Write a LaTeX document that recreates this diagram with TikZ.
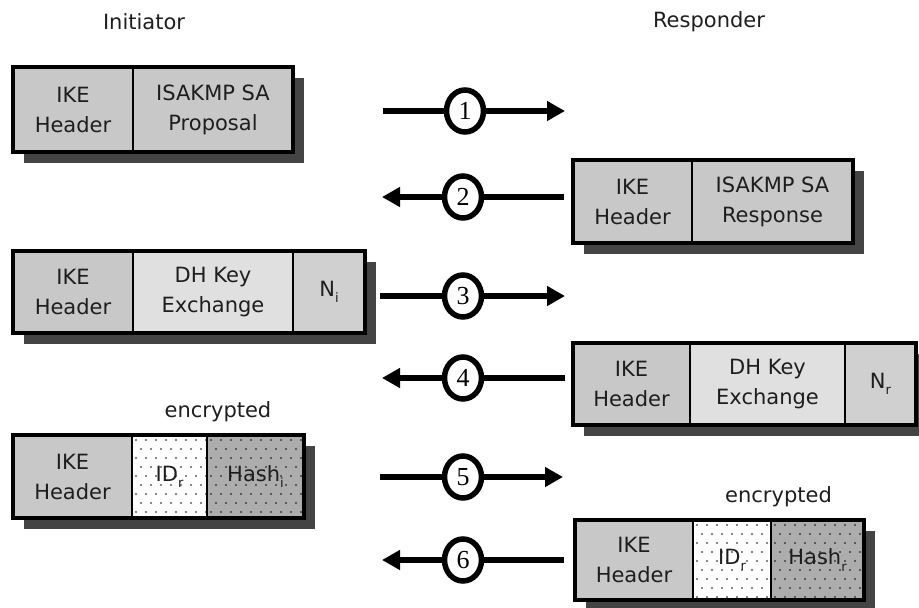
\documentclass[tikz,border=0pt]{standalone}
\usepackage{fontspec}
\setmainfont{DejaVu Sans}
\newfontfamily\digitfont{Liberation Serif}
\usetikzlibrary{arrows.meta,shapes.geometric,backgrounds,calc}

\definecolor{hdrgray}{HTML}{C8C8C8}
\definecolor{lightcell}{HTML}{E0E0E0}
\definecolor{midcell}{HTML}{D0D0D0}
\definecolor{hashgray}{HTML}{ADADAD}
\definecolor{shadowgray}{HTML}{444444}
\definecolor{inkgray}{HTML}{1E1E1E}
\definecolor{dotgray}{HTML}{606060}
\definecolor{dotdark}{HTML}{404040}

% small lowered index letter
\newcommand\idx[1]{\raisebox{-0.3em}{\fontsize{13}{13}\selectfont #1}}

\tikzset{
  cell/.style={draw=black, line width=2.5pt, anchor=north west, inner sep=0pt,
    outer sep=0pt, align=center, text=inkgray,
    font=\fontsize{21}{30}\selectfont},
  dotted cell/.style={cell, path picture={
      \foreach \i in {0,...,10}{\foreach \j in {0,...,9}{
        \fill[#1] ([shift={({\i*10+5*mod(\j,2)+4},{\j*9+5})}]path picture bounding box.north west) circle (1.1);
      }}}},
  frame/.style={draw=black, line width=4pt},
  shade box/.style={fill=shadowgray},
  title/.style={text=inkgray, font=\fontsize{21}{25}\selectfont},
  note/.style={text=inkgray, font=\fontsize{21}{25}\selectfont},
  msgarrow/.style={draw=black, line width=6.5pt, -{Triangle[length=18pt,width=19pt]}},
  stepnum/.style={ellipse, draw=black, line width=5.5pt, fill=white, inner sep=0pt,
    minimum width=37pt, minimum height=42pt, text=black,
    font=\digitfont\fontsize{26}{26}\selectfont}
}

\begin{document}
\begin{tikzpicture}[x=1pt,y=-1pt]
\useasboundingbox (0,0) rectangle (919,608);

% column headings
\node[title] (init) at (144,22) {Initiator};
\node[title] (resp) at (709,22) {Responder};

% message 1
\node[cell, fill=hdrgray, minimum width=120, minimum height=85] (h1) at (13,67) {IKE\\Header};
\node[cell, fill=hdrgray, minimum width=160, minimum height=85] (s1) at (h1.north east) {ISAKMP SA\\Proposal};
\draw[frame] (h1.north west) rectangle (s1.south east);

% message 2
\node[cell, fill=hdrgray, minimum width=119, minimum height=83] (h2) at (573,160) {IKE\\Header};
\node[cell, fill=hdrgray, minimum width=161, minimum height=83] (s2) at (h2.north east) {ISAKMP SA\\Response};
\draw[frame] (h2.north west) rectangle (s2.south east);

% message 3
\node[cell, fill=hdrgray, minimum width=120, minimum height=82] (h3) at (13,251) {IKE\\Header};
\node[cell, fill=lightcell, minimum width=160, minimum height=82] (d3) at (h3.north east) {DH Key\\Exchange};
\node[cell, fill=midcell, minimum width=72, minimum height=82] (n3) at (d3.north east) {N\idx{i}};
\draw[frame] (h3.north west) rectangle (n3.south east);

% message 4
\node[cell, fill=hdrgray, minimum width=117, minimum height=82] (h4) at (573,343) {IKE\\Header};
\node[cell, fill=lightcell, minimum width=155, minimum height=82] (d4) at (h4.north east) {DH Key\\Exchange};
\node[cell, fill=midcell, minimum width=71, minimum height=82] (n4) at (d4.north east) {N\idx{r}};
\draw[frame] (h4.north west) rectangle (n4.south east);

% message 5
\node[cell, fill=hdrgray, minimum width=119, minimum height=83] (h5) at (13,435) {IKE\\Header};
\node[dotted cell=dotgray, fill=white, minimum width=75, minimum height=83] (i5) at (h5.north east) {ID\idx{r}};
\node[dotted cell=dotdark, fill=hashgray, minimum width=97, minimum height=83] (k5) at (i5.north east) {Hash\idx{i}};
\draw[frame] (h5.north west) rectangle (k5.south east);
\node[note] (e5) at ([yshift=23pt]$(i5.north west)!0.5!(k5.north east)$) {encrypted};

% message 6
\node[cell, fill=hdrgray, minimum width=118, minimum height=80] (h6) at (575,520) {IKE\\Header};
\node[dotted cell=dotgray, fill=white, minimum width=78, minimum height=80] (i6) at (h6.north east) {ID\idx{r}};
\node[dotted cell=dotdark, fill=hashgray, minimum width=93, minimum height=80] (k6) at (i6.north east) {Hash\idx{r}};
\draw[frame] (h6.north west) rectangle (k6.south east);
\node[note] (e6) at ([yshift=23pt]$(i6.north west)!0.5!(k6.north east)$) {encrypted};

% drop shadows behind the messages
\begin{pgfonlayer}{background}
  \foreach \a/\b in {h1/s1,h2/s2,h3/n3,h4/n4,h5/k5,h6/k6}{
    \fill[shade box] ([shift={(11,11)}]\a.north west) rectangle ([shift={(11,11)}]\b.south east);
  }
\end{pgfonlayer}

% exchange arrows with step numbers
\coordinate (a1s) at (383,111); \coordinate (a1e) at (565,111);
\coordinate (a2s) at (564,197); \coordinate (a2e) at (382,197);
\coordinate (a3s) at (380,296); \coordinate (a3e) at (565,296);
\coordinate (a4s) at (565,378); \coordinate (a4e) at (382,378);
\coordinate (a5s) at (380,477); \coordinate (a5e) at (563,477);
\coordinate (a6s) at (564,560); \coordinate (a6e) at (382,560);

\draw[msgarrow] (a1s) -- (a1e);
\draw[msgarrow] (a2s) -- (a2e);
\draw[msgarrow] (a3s) -- (a3e);
\draw[msgarrow] (a4s) -- (a4e);
\draw[msgarrow] (a5s) -- (a5e);
\draw[msgarrow] (a6s) -- (a6e);

\node[stepnum] (c1) at (465,111) {1};
\node[stepnum] (c2) at (463,197) {2};
\node[stepnum] (c3) at (463,296) {3};
\node[stepnum] (c4) at (463,378) {4};
\node[stepnum] (c5) at (463,477) {5};
\node[stepnum] (c6) at (463,560) {6};
\end{tikzpicture}
\end{document}
